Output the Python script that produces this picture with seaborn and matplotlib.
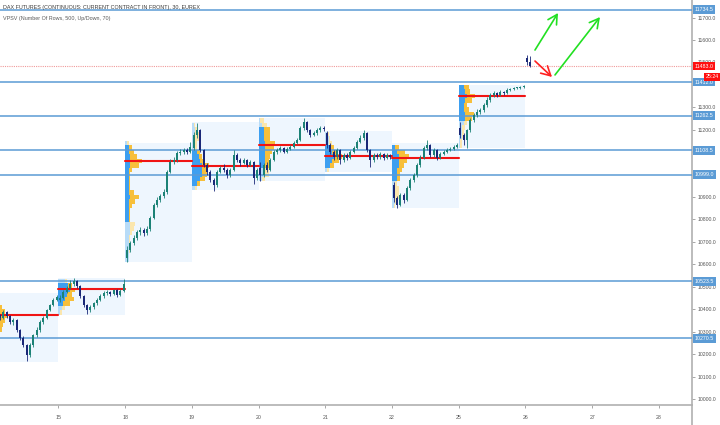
import numpy as np
import matplotlib
matplotlib.use("Agg")
import matplotlib.pyplot as plt
import matplotlib.transforms as mtransforms
from matplotlib.lines import Line2D
from matplotlib.patches import Rectangle
import seaborn as sns

# ---------------- data ----------------
DAY_LABELS = ["14", "15", "18", "19", "20", "21", "22", "25", "26", "27", "28"]
SESSIONS = ["14", "15", "18", "19", "20", "21", "22", "25", "26"]
OPENS = [10396, 10441, 10628, 11118, 11029, 11185, 10953, 11208, 11520]

C14 = [10387, 10374, 10361, 10387, 10370, 10343, 10352, 10307, 10272, 10240, 10196, 10240, 10285, 10307, 10343, 10361, 10396, 10419, 10441, 10454]
H14 = [10405, 10395, 10380, 10395, 10392, 10375, 10360, 10356, 10312, 10280, 10245, 10250, 10290, 10320, 10350, 10370, 10400, 10425, 10450, 10465]
L14 = [10375, 10365, 10350, 10355, 10360, 10335, 10330, 10300, 10262, 10230, 10170, 10185, 10232, 10278, 10300, 10335, 10355, 10390, 10412, 10435]

C15 = [10450, 10477, 10494, 10512, 10526, 10503, 10459, 10419, 10396, 10410, 10426, 10441, 10459, 10472, 10477, 10468, 10486, 10463, 10481, 10512]
H15 = [10465, 10485, 10505, 10530, 10540, 10532, 10508, 10465, 10425, 10420, 10432, 10450, 10466, 10480, 10485, 10482, 10492, 10490, 10488, 10535]
L15 = [10430, 10445, 10470, 10488, 10505, 10495, 10450, 10410, 10380, 10388, 10402, 10418, 10436, 10452, 10465, 10460, 10462, 10455, 10458, 10475]

C18 = [10664, 10695, 10717, 10744, 10753, 10740, 10757, 10806, 10864, 10887, 10904, 10922, 11011, 11056, 11065, 11096, 11101, 11110, 11101, 11123]
H18 = [10680, 10705, 10730, 10755, 10765, 10760, 10770, 10815, 10875, 10898, 10915, 10935, 11020, 11070, 11078, 11105, 11112, 11118, 11120, 11145]
L18 = [10610, 10655, 10688, 10710, 10730, 10728, 10732, 10750, 10800, 10855, 10878, 10895, 10915, 11005, 11045, 11058, 11085, 11092, 11090, 11095]

C19 = [11176, 11199, 11110, 11043, 11011, 10976, 10953, 11011, 11029, 11020, 10998, 11020, 11087, 11065, 11051, 11065, 11043, 11056, 10985, 11020]
H19 = [11190, 11230, 11205, 11115, 11050, 11020, 10985, 11020, 11040, 11045, 11030, 11030, 11110, 11095, 11075, 11072, 11070, 11065, 11060, 11030]
L19 = [11110, 11165, 11100, 11035, 11000, 10965, 10927, 10945, 11005, 11010, 10985, 10990, 11015, 11055, 11040, 11045, 11035, 11038, 10958, 10978]

C20 = [10998, 11043, 11020, 11065, 11101, 11110, 11118, 11101, 11114, 11123, 11141, 11154, 11208, 11234, 11199, 11176, 11185, 11199, 11208, 11203]
H20 = [11056, 11050, 11055, 11075, 11110, 11120, 11128, 11125, 11122, 11132, 11150, 11165, 11218, 11252, 11240, 11205, 11195, 11208, 11218, 11215]
L20 = [10971, 10990, 11010, 11015, 11060, 11092, 11100, 11095, 11095, 11108, 11118, 11135, 11150, 11200, 11190, 11168, 11170, 11178, 11190, 11195]

C21 = [11132, 11101, 11078, 11110, 11065, 11087, 11074, 11101, 11118, 11145, 11163, 11185, 11110, 11065, 11087, 11078, 11092, 11074, 11087, 11078]
H21 = [11194, 11140, 11110, 11118, 11115, 11095, 11095, 11108, 11128, 11155, 11175, 11199, 11190, 11115, 11095, 11095, 11100, 11098, 11095, 11092]
L21 = [11118, 11090, 11065, 11070, 11047, 11058, 11065, 11068, 11095, 11112, 11140, 11155, 11100, 11034, 11058, 11068, 11070, 11065, 11068, 11070]

C22 = [10896, 10865, 10909, 10887, 10940, 10976, 10998, 11043, 11074, 11118, 11132, 11087, 11110, 11074, 11092, 11101, 11110, 11114, 11123, 11132]
H22 = [10967, 10905, 10918, 10920, 10948, 10985, 11008, 11052, 11085, 11128, 11154, 11138, 11118, 11115, 11100, 11110, 11118, 11122, 11130, 11140]
L22 = [10878, 10851, 10858, 10875, 10880, 10932, 10968, 10990, 11035, 11068, 11110, 11078, 11080, 11065, 11068, 11085, 11095, 11104, 11108, 11118]

C25 = [11176, 11154, 11199, 11243, 11265, 11279, 11288, 11310, 11332, 11355, 11363, 11355, 11368, 11363, 11377, 11381, 11386, 11386, 11390, 11395]
H25 = [11234, 11185, 11205, 11250, 11275, 11290, 11298, 11320, 11345, 11365, 11372, 11370, 11375, 11374, 11384, 11388, 11392, 11392, 11396, 11400]
L25 = [11163, 11132, 11118, 11190, 11235, 11255, 11270, 11280, 11302, 11325, 11345, 11345, 11350, 11355, 11360, 11372, 11376, 11380, 11382, 11386]

C26 = [11500, 11483]
H26 = [11535, 11530]
L26 = [11490, 11478]

CLOSES = [C14, C15, C18, C19, C20, C21, C22, C25, C26]
HIGHS = [H14, H15, H18, H19, H20, H21, H22, H25, H26]
LOWS = [L14, L15, L18, L19, L20, L21, L22, L25, L26]

# volume profile per session (row size 20 points)
PROF_DAYS = ["14", "15", "18", "19", "20", "21", "22", "25"]
PROF_FIRST_ROW = [10170, 10385, 10620, 10940, 10980, 11020, 10860, 11130]
ROW_SIZE = 20
UP14 = [1, 1, 1, 2, 2, 2, 3, 3, 4, 4, 5, 4, 3, 2, 1]
DN14 = [0, 0, 1, 1, 1, 2, 2, 3, 3, 4, 5, 4, 3, 2, 1]
UP15 = [1, 2, 3, 4, 5, 7, 6, 4]
DN15 = [1, 2, 4, 5, 3, 3, 2, 1]
UP18 = [2, 2, 2, 2, 2, 2, 3, 3, 3, 2, 2, 2, 2, 2, 3, 2, 2, 2, 2, 2, 2, 3, 3, 3, 2, 2, 1]
DN18 = [0, 0, 1, 1, 1, 1, 1, 2, 3, 1, 1, 1, 2, 4, 5, 3, 1, 1, 1, 1, 2, 5, 7, 4, 3, 2, 1]
UP19 = [2, 3, 5, 6, 6, 6, 5, 4, 3, 2, 2, 2, 2, 2, 1]
DN19 = [1, 2, 3, 3, 3, 4, 2, 2, 2, 1, 1, 2, 2, 1, 1]
UP20 = [2, 3, 3, 4, 4, 4, 4, 4, 4, 3, 3, 3, 2, 1]
DN20 = [2, 3, 3, 3, 2, 3, 4, 5, 6, 4, 4, 4, 3, 2]
UP21 = [1, 3, 4, 5, 4, 3, 2, 2, 1]
DN21 = [1, 2, 4, 5, 3, 2, 2, 1, 1]
UP22 = [1, 2, 2, 2, 2, 2, 3, 3, 3, 4, 4, 4, 3, 2]
DN22 = [1, 1, 2, 2, 2, 1, 2, 2, 3, 3, 5, 6, 5, 2]
UP25 = [1, 1, 2, 2, 2, 3, 4, 4, 3, 3, 4, 5, 4, 3]
DN25 = [1, 1, 1, 1, 2, 2, 4, 5, 3, 2, 4, 5, 3, 3]
PROF_UP = [UP14, UP15, UP18, UP19, UP20, UP21, UP22, UP25]
PROF_DN = [DN14, DN15, DN18, DN19, DN20, DN21, DN22, DN25]
BOX_LO = [10165, 10374, 10610, 10931, 10971, 11011, 10851, 11118]
BOX_HI = [10472, 10539, 11141, 11234, 11252, 11194, 11140, 11400]
POC = [10374, 10490, 11060, 11038, 11132, 11083, 11074, 11350]

LEVELS = [11734.5, 11412.0, 11262.5, 11108.5, 10999.0, 10523.5, 10270.5]
LAST_PRICE = 11483.0
COUNTDOWN = "25:24"
PRICE_TICKS = list(range(10000, 11701, 100))

# drawn arrows: (day position, price) start -> end
ARROW_RED = [(8.144, 11506), (8.399, 11435)]
ARROW_GREEN_1 = [(8.144, 11555), (8.489, 11720)]
ARROW_GREEN_2 = [(8.444, 11444), (9.118, 11702)]

TITLE_1 = "DAX FUTURES (CONTINUOUS: CURRENT CONTRACT IN FRONT), 30, EUREX"
TITLE_2 = "VPSV (Number Of Rows, 500, Up/Down, 70)"

# ---------------- style ----------------
BARS_PER_DAY = 20
UP_COL = "#1c8276"
DN_COL = "#1a2878"
VA_UP, VA_DN = "#3d9ff0", "#f7bf3a"
OUT_UP, OUT_DN = "#b8dcf8", "#fbe6ad"
BOX_COL = "#eef6fe"
LEVEL_COL = "#5b9bd5"
POC_COL = "#f01414"
PROFILE_WIDTH = 0.25

sns.set_theme(style="white")
plt.rcParams["font.family"] = ["Liberation Sans", "DejaVu Sans"]

fig = plt.figure(figsize=(7.2, 4.25), dpi=100)
ax = fig.add_axes([0, 20 / 425, 692 / 720, 405 / 425])
ax.set_facecolor("white")


def value_area(tot, frac=0.70):
    poc_i = int(np.argmax(tot))
    lo = hi = poc_i
    acc = tot[poc_i]
    total = sum(tot)
    while acc < frac * total:
        up = tot[hi + 1] if hi + 1 < len(tot) else -1
        dn = tot[lo - 1] if lo - 1 >= 0 else -1
        if up < 0 and dn < 0:
            break
        if up >= dn:
            hi += 1
            acc += up
        else:
            lo -= 1
            acc += dn
    return lo, hi


# session boxes + profiles + POC
for k, lab in enumerate(PROF_DAYS):
    d0 = DAY_LABELS.index(lab)
    ax.add_patch(Rectangle((d0, BOX_LO[k]), 1, BOX_HI[k] - BOX_LO[k],
                           facecolor=BOX_COL, edgecolor="none", zorder=1))
    up = np.array(PROF_UP[k], float)
    dn = np.array(PROF_DN[k], float)
    tot = up + dn
    scale = PROFILE_WIDTH / tot.max()
    centers = PROF_FIRST_ROW[k] + ROW_SIZE * np.arange(len(up))
    lo, hi = value_area(list(tot))
    inside = (np.arange(len(up)) >= lo) & (np.arange(len(up)) <= hi)
    ax.barh(centers, up * scale, left=d0, height=ROW_SIZE,
            color=np.where(inside, VA_UP, OUT_UP), linewidth=0, zorder=2)
    ax.barh(centers, dn * scale, left=d0 + up * scale, height=ROW_SIZE,
            color=np.where(inside, VA_DN, OUT_DN), linewidth=0, zorder=2)
    sns.lineplot(x=[d0, d0 + 1], y=[POC[k], POC[k]], ax=ax, color=POC_COL,
                 linewidth=1.5, zorder=4)

# horizontal levels
for lvl in LEVELS:
    ax.axhline(lvl, color=LEVEL_COL, linewidth=1.1, zorder=3)
ax.axhline(LAST_PRICE, color="#f09a9a", linewidth=0.8, linestyle=(0, (1, 1)), zorder=3)

# candles
for lab, op, C, H, L in zip(SESSIONS, OPENS, CLOSES, HIGHS, LOWS):
    d0 = DAY_LABELS.index(lab)
    n = len(C)
    xs = d0 + (np.arange(n) + 0.5) / BARS_PER_DAY
    O = np.array([op] + C[:-1], float)
    Cc = np.array(C, float)
    cols = np.where(Cc >= O, UP_COL, DN_COL)
    bottoms = np.minimum(O, Cc)
    heights = np.maximum(np.abs(Cc - O), 3)
    ax.vlines(xs, L, H, colors=cols, linewidth=0.6, zorder=5)
    ax.bar(xs, heights, bottom=bottoms, width=0.6 / BARS_PER_DAY,
           color=cols, linewidth=0, zorder=6)

# arrows
for (s, e), col in [(ARROW_RED, "#ff2020"), (ARROW_GREEN_1, "#22e022"), (ARROW_GREEN_2, "#22e022")]:
    ax.annotate("", xy=e, xytext=s,
                arrowprops=dict(arrowstyle="->,head_length=0.55,head_width=0.3",
                                color=col, lw=1.2, mutation_scale=12,
                                shrinkA=0, shrinkB=0), zorder=7)

# axes
ax.set_xlim(0.123, 10.498)
ax.set_ylim(9973, 11778)
ax.set_xticks(range(1, len(DAY_LABELS)))
ax.set_xticklabels(DAY_LABELS[1:], fontsize=3.8, color="#555555")
ax.set_yticks(PRICE_TICKS)
# labels fully hidden under a price-label box are not shown (as on the reference)
hidden = [v for v in PRICE_TICKS if any(abs(v - l) < 15 for l in LEVELS + [LAST_PRICE])]
ax.set_yticklabels(["" if v in hidden else f"{v:.1f}" for v in PRICE_TICKS],
                   fontsize=3.7, color="#555555")
ax.yaxis.tick_right()
ax.tick_params(axis="y", right=True, left=False, labelright=True, labelleft=False,
               length=2, width=0.6, color="#999999", pad=2)
ax.tick_params(axis="x", bottom=True, length=2, width=0.6, color="#999999", pad=5)
for sp in ["top", "left"]:
    ax.spines[sp].set_visible(False)
for sp in ["bottom", "right"]:
    ax.spines[sp].set_color("#b0b0b0")
    ax.spines[sp].set_linewidth(1.2)
fig.add_artist(Line2D([692 / 720, 692 / 720], [0, 20 / 425], color="#b0b0b0", linewidth=1.2))
ax.grid(False)

# price labels on the right
trans = mtransforms.blended_transform_factory(ax.transAxes, ax.transData)
for lvl in LEVELS:
    ax.text(1.004, lvl, f"{lvl:.1f}", transform=trans, fontsize=3.8, color="white",
            ha="left", va="center", zorder=20, clip_on=False,
            bbox=dict(boxstyle="square,pad=0.35", facecolor=LEVEL_COL, edgecolor="none"))
ax.text(1.004, LAST_PRICE, f"{LAST_PRICE:.1f}", transform=trans, fontsize=3.8, color="white",
        ha="left", va="center", zorder=21, clip_on=False,
        bbox=dict(boxstyle="square,pad=0.3", facecolor="#ff1010", edgecolor="none"))
ax.annotate(COUNTDOWN, xy=(1.0, LAST_PRICE), xycoords=trans, xytext=(19.5, -7.6),
            textcoords="offset points", fontsize=3.8, color="white", ha="right", va="center",
            zorder=21, annotation_clip=False,
            bbox=dict(boxstyle="square,pad=0.3", facecolor="#ff1010", edgecolor="none"))

# titles
fig.text(0.004, 1 - 8 / 425, TITLE_1, fontsize=3.9, color="#3a3a3a", ha="left", va="center")
fig.text(0.004, 1 - 18.5 / 425, TITLE_2, fontsize=3.9, color="#5a5a5a", ha="left", va="center")

fig.savefig("out.png", dpi=100)
